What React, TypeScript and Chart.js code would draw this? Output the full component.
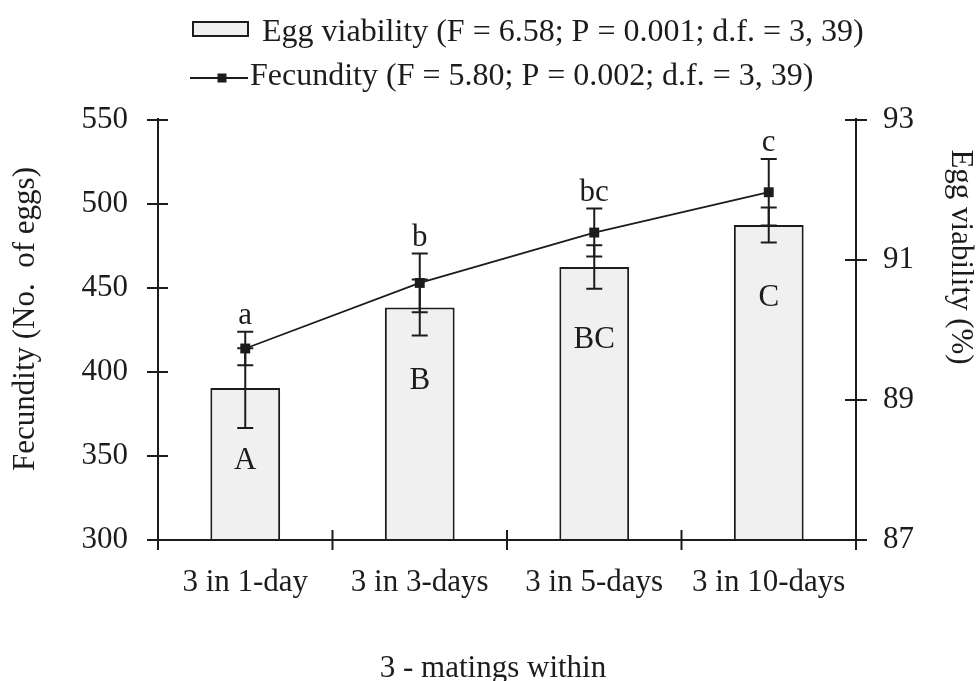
import React, { useEffect, useRef } from "react";
import { Chart, registerables } from "chart.js";

Chart.register(...registerables);

// ---- data ----
const categories = ["3 in 1-day", "3 in 3-days", "3 in 5-days", "3 in 10-days"];
const eggViability = [89.17, 90.32, 90.9, 91.5];
const eggViabilityErr = [0.57, 0.4, 0.31, 0.25];
const fecundity = [414, 453, 483, 507];
const fecundityErr = [10, 17.5, 14.3, 19.8];
const viabilityLetters = ["A", "B", "BC", "C"];
const fecundityLetters = ["a", "b", "bc", "c"];
const leftTicks = [300, 350, 400, 450, 500, 550];
const rightTicks = [87, 89, 91, 93];
const legendLabels = [
  "Egg viability (F = 6.58; P = 0.001; d.f. = 3, 39)",
  "Fecundity (F = 5.80; P = 0.002; d.f. = 3, 39)",
];
const xTitle = "3 - matings within";
const yTitle = "Fecundity (No.  of eggs)";
const y1Title = "Egg viability (%)";

const FONT = '"Liberation Serif", "Times New Roman", serif';
const INK = "#1c1c1c";
const BAR_FILL = "#f0f0f0";

const decor = {
  id: "decor",
  afterDatasetsDraw(chart: any) {
    const { ctx, scales } = chart;
    const x = scales.x;
    const y = scales.y;
    const y1 = scales.y1;
    const cap = 8;
    ctx.save();
    ctx.strokeStyle = INK;
    ctx.lineWidth = 2;
    const errBar = (px: number, top: number, bot: number) => {
      ctx.beginPath();
      ctx.moveTo(px, top);
      ctx.lineTo(px, bot);
      ctx.moveTo(px - cap, top);
      ctx.lineTo(px + cap, top);
      ctx.moveTo(px - cap, bot);
      ctx.lineTo(px + cap, bot);
      ctx.stroke();
    };
    ctx.fillStyle = INK;
    ctx.font = `31px ${FONT}`;
    ctx.textAlign = "center";
    ctx.textBaseline = "alphabetic";
    categories.forEach((_, i) => {
      const px = x.getPixelForValue(i);
      // bar error
      errBar(
        px,
        y1.getPixelForValue(eggViability[i] + eggViabilityErr[i]),
        y1.getPixelForValue(eggViability[i] - eggViabilityErr[i])
      );
      // line error
      const top = y.getPixelForValue(fecundity[i] + fecundityErr[i]);
      errBar(px, top, y.getPixelForValue(fecundity[i] - fecundityErr[i]));
      ctx.fillText(fecundityLetters[i], px, top - 8);
      ctx.fillText(viabilityLetters[i], px, y1.getPixelForValue(eggViability[i]) + 81);
    });
    ctx.restore();
  },
  afterDraw(chart: any) {
    const { ctx, chartArea: ca, scales } = chart;
    const x = scales.x;
    const y = scales.y;
    const y1 = scales.y1;
    const ext = 10;
    ctx.save();
    ctx.strokeStyle = INK;
    ctx.lineWidth = 2;
    ctx.beginPath();
    // axes
    ctx.moveTo(ca.left, ca.top - 2);
    ctx.lineTo(ca.left, ca.bottom + ext);
    ctx.moveTo(ca.right, ca.top - 2);
    ctx.lineTo(ca.right, ca.bottom + ext);
    ctx.moveTo(ca.left - ext, ca.bottom);
    ctx.lineTo(ca.right + ext, ca.bottom);
    // left ticks
    y.ticks.forEach((t: any) => {
      const py = y.getPixelForValue(t.value);
      ctx.moveTo(ca.left - 11, py);
      ctx.lineTo(ca.left + 10, py);
    });
    y1.ticks.forEach((t: any) => {
      const py = y1.getPixelForValue(t.value);
      ctx.moveTo(ca.right - 11, py);
      ctx.lineTo(ca.right + 11, py);
    });
    // x ticks at category boundaries
    for (let i = 1; i < categories.length; i++) {
      const bx = (x.getPixelForValue(i - 1) + x.getPixelForValue(i)) / 2;
      ctx.moveTo(bx, ca.bottom - ext);
      ctx.lineTo(bx, ca.bottom + ext);
    }
    ctx.stroke();

    // titles
    ctx.fillStyle = INK;
    ctx.font = `31px ${FONT}`;
    ctx.textAlign = "center";
    ctx.textBaseline = "alphabetic";
    ctx.fillText(xTitle, 493, 677);

    ctx.save();
    ctx.translate(26, 319);
    ctx.rotate(-Math.PI / 2);
    ctx.textBaseline = "middle";
    ctx.fillText(yTitle, 0, 0);
    ctx.restore();

    ctx.save();
    ctx.translate(960, 257);
    ctx.rotate(Math.PI / 2);
    ctx.textBaseline = "middle";
    ctx.fillText(y1Title, 0, 0);
    ctx.restore();

    // legend
    ctx.font = `32px ${FONT}`;
    ctx.textAlign = "left";
    ctx.textBaseline = "alphabetic";
    ctx.lineWidth = 2;
    ctx.fillStyle = BAR_FILL;
    ctx.fillRect(193, 22, 55, 14);
    ctx.strokeRect(193, 22, 55, 14);
    ctx.fillStyle = INK;
    ctx.fillText(legendLabels[0], 262, 41);
    ctx.beginPath();
    ctx.moveTo(190, 78);
    ctx.lineTo(248, 78);
    ctx.stroke();
    ctx.fillRect(222 - 4.5, 78 - 4.5, 9, 9);
    ctx.fillText(legendLabels[1], 250, 85);
    ctx.restore();
  },
};

export default function App() {
  const ref = useRef<HTMLCanvasElement>(null);
  useEffect(() => {
    const chart = new Chart(ref.current as HTMLCanvasElement, {
      type: "bar",
      data: {
        labels: categories,
        datasets: [
          {
            type: "line",
            label: "Fecundity",
            data: fecundity,
            yAxisID: "y",
            borderColor: INK,
            borderWidth: 1.8,
            backgroundColor: INK,
            pointStyle: "rect",
            pointRadius: 7,
            pointBorderWidth: 0,
            tension: 0,
            order: 0,
          } as any,
          {
            type: "bar",
            label: "Egg viability",
            data: eggViability,
            yAxisID: "y1",
            backgroundColor: BAR_FILL,
            borderColor: INK,
            borderWidth: 2,
            barPercentage: 0.4,
            categoryPercentage: 1,
            order: 1,
          } as any,
        ],
      },
      options: {
        responsive: false,
        animation: false,
        devicePixelRatio: 1,
        layout: { padding: { top: 120, left: 0, right: 0, bottom: 0 } },
        plugins: {
          legend: { display: false },
          tooltip: { enabled: false },
        },
        scales: {
          x: {
            type: "category",
            offset: true,
            grid: { display: false, drawTicks: false },
            border: { display: false },
            ticks: {
              font: { family: FONT, size: 31 },
              color: INK,
              padding: 24,
              maxRotation: 0,
              autoSkip: false,
            },
            afterFit: (s: any) => {
              s.height = 141;
            },
          },
          y: {
            position: "left",
            min: 300,
            max: 550,
            grid: { display: false, drawTicks: false },
            border: { display: false },
            ticks: {
              font: { family: FONT, size: 31 },
              color: INK,
              padding: 30,
            },
            afterBuildTicks: (s: any) => {
              s.ticks = leftTicks.map((v) => ({ value: v }));
            },
            afterFit: (s: any) => {
              s.width = 158;
            },
          },
          y1: {
            position: "right",
            min: 87,
            max: 93,
            grid: { display: false, drawTicks: false },
            border: { display: false },
            ticks: {
              font: { family: FONT, size: 31 },
              color: INK,
              padding: 27,
            },
            afterBuildTicks: (s: any) => {
              s.ticks = rightTicks.map((v) => ({ value: v }));
            },
            afterFit: (s: any) => {
              s.width = 124;
            },
          },
        },
      } as any,
      plugins: [decor],
    });
    return () => chart.destroy();
  }, []);
  return (
    <div
      style={{
        position: "fixed",
        left: 0,
        top: 0,
        width: 980,
        height: 681,
        background: "#ffffff",
      }}
    >
      <canvas ref={ref} width={980} height={681} style={{ display: "block", width: 980, height: 681 }} />
    </div>
  );
}
